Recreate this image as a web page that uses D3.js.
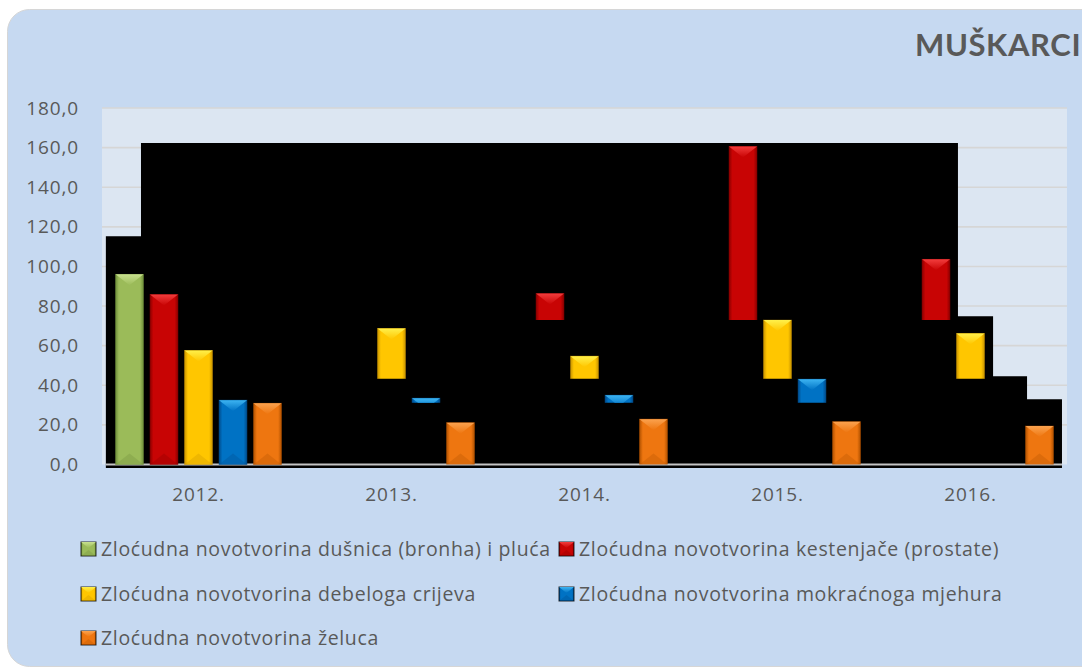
<!DOCTYPE html>
<meta charset="utf-8">
<style>
body { margin: 0; background: #fff; }
svg text { font-family: "Open Sans", Lato, sans-serif; fill: #595959; }
.axis path { display: none; }
.axis line { display: none; }
</style>
<svg width="1082" height="669"></svg>
<script src="https://cdn.jsdelivr.net/npm/d3@7"></script>
<script>

var years = ["2012.", "2013.", "2014.", "2015.", "2016."];
var seriesNames = [
  "Zloćudna novotvorina dušnica (bronha) i pluća",
  "Zloćudna novotvorina kestenjače (prostate)",
  "Zloćudna novotvorina debeloga crijeva",
  "Zloćudna novotvorina mokraćnoga mjehura",
  "Zloćudna novotvorina želuca"
];
// values; null = hidden behind the black block
var lungs    = [96.0, null, null, null, null];
var prostate = [85.8, null, 86.3, 160.6, 103.6];
var colon    = [57.6, 68.7, 54.7, 72.9, 66.2];
var bladder  = [32.5, 33.5, 35.0, 43.1, null];
var stomach  = [30.9, 21.1, 22.9, 21.6, 19.4];
var seriesValues = [lungs, prostate, colon, bladder, stomach];

// from 2013. on, each series only shows above this value (the rest is black)
var shownAbove = [Infinity, 73.0, 43.3, 31.2, 0];

// black block outline: [position in category units, top value]
var blockSteps = [[0.02, 115.2], [0.202, 162.3], [4.435, 74.9], [4.617, 44.6], [4.793, 33.0], [4.974, 0]];

var yTicks = d3.range(0, 181, 20);
var title = "MUŠKARCI";

var palette = [
  {base: "#9BBB59", light: "#C8E08E", dark: "#6F8F3A"},
  {base: "#C80404", light: "#F23C3C", dark: "#8C0000"},
  {base: "#FFC600", light: "#FFF04A", dark: "#C99400"},
  {base: "#0072C4", light: "#3DB4F2", dark: "#004C8C"},
  {base: "#EE7610", light: "#FBA24E", dark: "#B25200"}
];

var svg = d3.select("svg"),
    plot = {left: 102, right: 1067, top: 108, bottom: 464.5};

var defs = svg.append("defs");
palette.forEach(function(c, i) {
  var gr = defs.append("linearGradient").attr("id", "bar" + i)
      .attr("x1", 0).attr("x2", 1).attr("y1", 0).attr("y2", 0);
  [[0, c.dark], [0.12, c.base], [0.5, c.base], [0.88, c.base], [1, c.dark]].forEach(function(s) {
    gr.append("stop").attr("offset", s[0]).attr("stop-color", s[1]);
  });
  var tg = defs.append("linearGradient").attr("id", "top" + i)
      .attr("x1", 0).attr("x2", 0).attr("y1", 0).attr("y2", 1);
  tg.append("stop").attr("offset", 0).attr("stop-color", c.light);
  tg.append("stop").attr("offset", 1).attr("stop-color", c.base);
});

// panel
svg.append("rect")
    .attr("x", 7.5).attr("y", 9.5)
    .attr("width", 1110).attr("height", 657)
    .attr("rx", 22)
    .attr("fill", "#C6D9F1")
    .attr("stroke", "#D6D6D6");

svg.append("text")
    .attr("x", 915).attr("y", 56)
    .style("font-family", "Lato, sans-serif")
    .style("font-size", "31px")
    .style("font-weight", "bold")
    .style("letter-spacing", "0.6px")
    .text(title);

var y = d3.scaleLinear().domain([0, 180]).range([plot.bottom, plot.top]);
var x0 = d3.scaleBand().domain(years).range([plot.left, plot.right]);
var x1 = d3.scaleBand().domain(d3.range(seriesNames.length))
    .range([0, x0.bandwidth()]).paddingInner(0.19).paddingOuter(0.392);
var xu = d3.scaleLinear().domain([0, years.length]).range([plot.left, plot.right]);

svg.append("rect")
    .attr("x", plot.left).attr("y", plot.top)
    .attr("width", plot.right - plot.left).attr("height", plot.bottom - plot.top)
    .attr("fill", "#DCE6F2");

svg.append("g").selectAll("line")
  .data(yTicks.slice(1))
  .enter().append("line")
    .attr("x1", plot.left).attr("x2", plot.right)
    .attr("y1", function(d) { return y(d); })
    .attr("y2", function(d) { return y(d); })
    .attr("stroke", "#D6D6D6")
    .attr("stroke-width", 1.6);

// black block
var pts = [[xu(blockSteps[0][0]), plot.bottom + 3.5]];
for (var i = 0; i < blockSteps.length - 1; i++) {
  pts.push([xu(blockSteps[i][0]), y(blockSteps[i][1])]);
  pts.push([xu(blockSteps[i + 1][0]), y(blockSteps[i][1])]);
}
pts.push([xu(blockSteps[blockSteps.length - 1][0]), plot.bottom + 3.5]);
svg.append("polygon")
    .attr("points", pts.map(function(p) { return p.join(","); }).join(" "))
    .attr("fill", "#000");

svg.append("line")
    .attr("x1", xu(blockSteps[0][0])).attr("x2", xu(blockSteps[blockSteps.length - 1][0]))
    .attr("y1", plot.bottom).attr("y2", plot.bottom)
    .attr("stroke", "#C4C4C4").attr("stroke-width", 1.8);

// clip regions for the partly visible bars
shownAbove.forEach(function(v, i) {
  defs.append("clipPath").attr("id", "clip" + i)
    .append("rect")
      .attr("x", plot.left).attr("y", plot.top - 10)
      .attr("width", plot.right - plot.left)
      .attr("height", Math.max(0, (isFinite(v) ? y(v) : plot.top - 10) - plot.top + 10));
});

function drawBevelBar(g, i, x, top, w, bottom) {
  var bev = Math.min(11, w * 0.4);
  g.append("rect")
      .attr("x", x).attr("y", top).attr("width", w).attr("height", bottom - top)
      .attr("fill", "url(#bar" + i + ")")
      .attr("stroke", palette[i].dark).attr("stroke-width", 0.8).attr("stroke-opacity", 0.6);
  g.append("polygon")
      .attr("points", [[x, top], [x + w, top], [x + w / 2, top + bev]].map(function(p) { return p.join(","); }).join(" "))
      .attr("fill", "url(#top" + i + ")");
  g.append("polygon")
      .attr("points", [[x, bottom], [x + w, bottom], [x + w / 2, bottom - bev]].map(function(p) { return p.join(","); }).join(" "))
      .attr("fill", palette[i].dark).attr("fill-opacity", 0.3);
}

var bars = [];
seriesValues.forEach(function(vals, i) {
  vals.forEach(function(v, j) {
    if (v != null) bars.push({series: i, year: j, value: v});
  });
});

bars.forEach(function(d) {
  var g = svg.append("g");
  if (d.year > 0) g.attr("clip-path", "url(#clip" + d.series + ")");
  drawBevelBar(g, d.series, x0(years[d.year]) + x1(d.series), y(d.value), x1.bandwidth(), y(0));
});

// axes
svg.append("g")
    .attr("class", "axis")
    .attr("transform", "translate(" + plot.left + ",0)")
    .call(d3.axisLeft(y).tickValues(yTicks).tickSize(0).tickPadding(23)
      .tickFormat(function(d) { return d3.format(".1f")(d).replace(".", ","); }))
    .selectAll("text")
      .style("font-size", "19px")
      .style("font-family", "'Open Sans', sans-serif")
      .style("letter-spacing", "0.9px")
      .attr("fill", "#595959");

svg.append("g")
    .attr("class", "axis")
    .attr("transform", "translate(0," + plot.bottom + ")")
    .call(d3.axisBottom(x0).tickSize(0).tickPadding(23))
    .selectAll("text")
      .style("font-size", "19px")
      .style("font-family", "'Open Sans', sans-serif")
      .style("letter-spacing", "0.8px")
      .attr("fill", "#595959");

// legend
var legendCols = [81, 559], legendRows = [556, 601, 645];
seriesNames.forEach(function(name, i) {
  var lx = legendCols[i % 2], ly = legendRows[Math.floor(i / 2)];
  var g = svg.append("g");
  drawBevelBar(g, i, lx, ly - 14, 15, ly);
  g.select("rect").attr("stroke", "#000").attr("stroke-opacity", 0.8).attr("stroke-width", 1);
  g.append("text")
      .attr("x", lx + 20).attr("y", ly)
      .style("font-size", "19.5px")
      .style("letter-spacing", "0.65px")
      .text(name);
});

</script>
